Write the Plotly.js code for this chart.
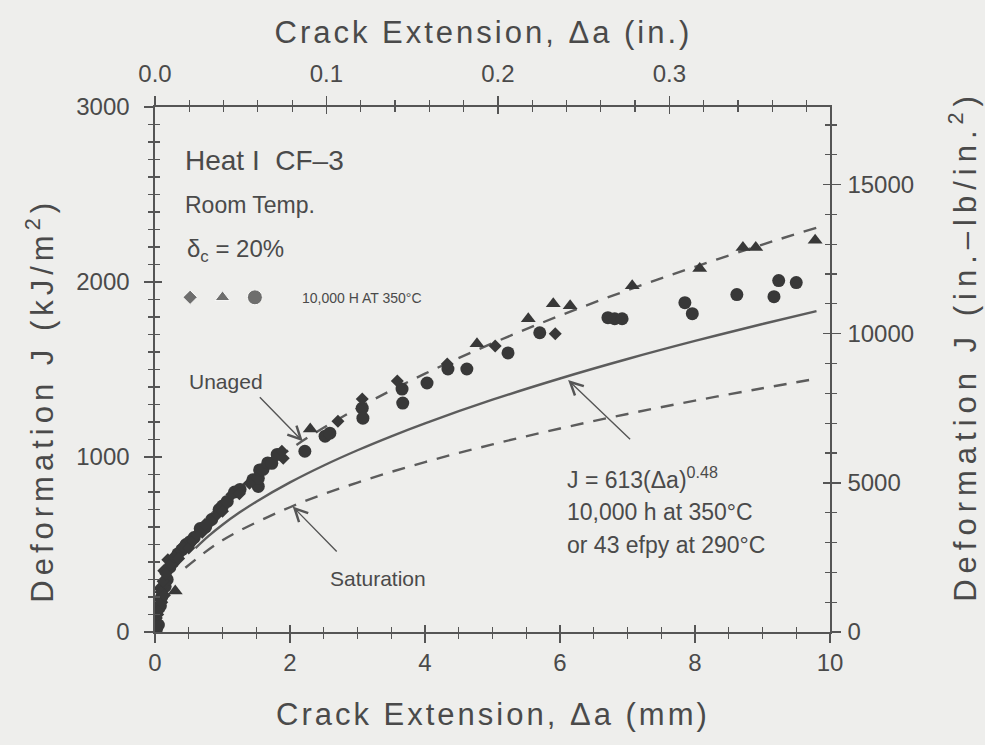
<!DOCTYPE html>
<html>
<head>
<meta charset="utf-8">
<script src="https://cdn.plot.ly/plotly-3.0.1.min.js"></script>
<style>
  html, body { margin: 0; padding: 0; background: #eeeeec; }
  #chart { width: 985px; height: 745px; }
  /* loose tracking on the four axis titles (annotations 0-3) */
  .annotation[data-index="0"] text, .annotation[data-index="1"] text { letter-spacing: 3px; }
  .annotation[data-index="2"] text { letter-spacing: 5px; }
  .annotation[data-index="3"] text { letter-spacing: 6px; }
</style>
</head>
<body>
<div id="chart"></div>
<script>
// Heat I CF-3, room temperature, aged 10,000 h at 350 °C:
// deformation J versus crack extension.

// small diamonds
const diamondDa = [0.00, 0.01, 0.02, 0.03, 0.04, 0.05, 0.06, 0.07, 0.09, 0.10, 0.12, 0.13, 0.14, 0.16, 0.19,
                   0.24, 0.28, 0.35, 0.41, 0.50, 0.56, 0.62, 0.70, 0.74, 0.80, 0.92, 1.00, 1.14, 1.25, 1.40,
                   1.88, 1.90, 2.71, 3.07, 3.59, 4.33, 5.04, 5.93];
const diamondJ  = [0, 30, 80, 60, 100, 120, 190, 250, 229, 170, 290, 350, 210, 333, 413,
                   390, 430, 420, 488, 480, 520, 557, 570, 614, 620, 671, 690, 786, 790, 850,
                   1033, 993, 1205, 1331, 1434, 1532, 1635, 1704];

// triangles
const triangleDa = [0.30, 2.30, 4.77, 5.53, 5.90, 6.15, 7.07, 8.07, 8.71, 8.90, 9.78];
const triangleJ  = [235, 1160, 1647, 1790, 1876, 1865, 1979, 2077, 2197, 2197, 2238];

// large circles
const circleDa = [0.00, 0.02, 0.05, 0.08, 0.10, 0.15, 0.18, 0.22, 0.27, 0.34, 0.40, 0.46, 0.52, 0.58, 0.67,
                  0.75, 0.84, 0.95, 1.00, 1.07, 1.18, 1.26, 1.45, 1.53, 1.53, 1.55, 1.60, 1.67,
                  1.73, 1.81, 2.22, 2.52, 2.59, 3.07, 3.08, 3.66, 3.67, 4.03, 4.34, 4.62, 5.23, 5.70,
                  6.71, 6.81, 6.92, 7.85, 7.96, 8.62, 9.17, 9.24, 9.50];
const circleJ  = [50, 15, 40, 150, 200, 260, 300, 370, 400, 447, 470, 500, 516, 540, 591,
                  600, 643, 700, 720, 746, 800, 815, 870, 832, 878, 926, 929, 966,
                  964, 1015, 1033, 1119, 1136, 1279, 1222, 1388, 1308, 1423, 1503, 1503, 1595, 1710,
                  1796, 1790, 1790, 1882, 1819, 1928, 1916, 2008, 1997];

// aged fit: J = 613 (Δa)^0.48
const fitCoef = 613;
const fitExp = 0.48;
const fitDa = [0.6, 0.8, 1, 1.25, 1.5, 2, 2.5, 3, 3.5, 4, 5, 6, 7, 8, 9, 9.8];
const fitJ = fitDa.map(a => fitCoef * Math.pow(a, fitExp));

// unaged material curve
const unagedDa = [0.2, 0.5, 1, 2, 3, 4, 5, 6, 7, 8, 9, 9.8];
const unagedJ  = [330, 522, 738, 1044, 1278, 1476, 1650, 1808, 1953, 2087, 2214, 2310];

// saturation curve
const satDa = [0.45, 1, 2, 3, 4, 5, 6, 7, 8, 9, 9.8];
const satJ  = [367, 524, 713, 854, 971, 1072, 1163, 1246, 1322, 1393, 1447];

// legend key symbols
const keySymbols = ['diamond', 'triangle-up', 'circle'];
const keySizes = [11, 13, 15];

// secondary axis scales
const MM_PER_IN = 25.4;
const daMax = 10;          // mm
const jMax = 3000;         // kJ/m2
const jMaxInLb = 17600;    // in.-lb/in.2 at the top of the frame

const FONT = '"Liberation Sans", Arial, Helvetica, sans-serif';
const TXT = '#4a4a4a';
const INK = '#383838';
const AX = '#555555';
const CURVE = '#5c5c5c';

const traces = [
  { x: fitDa, y: fitJ, mode: 'lines', line: { color: CURVE, width: 2.4, shape: 'spline' },
    showlegend: false, hoverinfo: 'skip' },
  { x: unagedDa, y: unagedJ, mode: 'lines', line: { color: CURVE, width: 2.4, dash: '13px,10px', shape: 'spline' },
    showlegend: false, hoverinfo: 'skip' },
  { x: satDa, y: satJ, mode: 'lines', line: { color: CURVE, width: 2.4, dash: '13px,10px', shape: 'spline' },
    showlegend: false, hoverinfo: 'skip' },
  { x: circleDa, y: circleJ, mode: 'markers', marker: { symbol: 'circle', size: 13, color: INK }, showlegend: false },
  { x: triangleDa, y: triangleJ, mode: 'markers', marker: { symbol: 'triangle-up', size: 13, color: INK }, showlegend: false },
  { x: diamondDa, y: diamondJ, mode: 'markers', marker: { symbol: 'diamond', size: 10, color: INK }, showlegend: false },
  // key symbols on their own small axes
  { x: keySymbols.map((s, i) => i), y: keySymbols.map(() => 0), xaxis: 'x5', yaxis: 'y5', mode: 'markers',
    marker: { symbol: keySymbols, size: keySizes, color: INK }, showlegend: false, hoverinfo: 'skip' },
  // companion axes carrying the secondary scales and inward tick halves
  { x: [], y: [], xaxis: 'x2', yaxis: 'y2', showlegend: false, hoverinfo: 'skip' },
  { x: [], y: [], xaxis: 'x3', yaxis: 'y3', showlegend: false, hoverinfo: 'skip' },
  { x: [], y: [], xaxis: 'x4', yaxis: 'y4', showlegend: false, hoverinfo: 'skip' }
];

const tickFont = { family: FONT, size: 24, color: TXT };
const base = { showgrid: false, zeroline: false, showline: true, linecolor: AX, linewidth: 1.6,
               tickcolor: AX, tickwidth: 1.4, tickfont: tickFont, fixedrange: true };
const minorOut = (d, len) => ({ dtick: d, ticks: 'outside', ticklen: len, tickcolor: AX, tickwidth: 1.2, showgrid: false });
const minorIn = (d, len) => ({ dtick: d, ticks: 'inside', ticklen: len, tickcolor: AX, tickwidth: 1.2, showgrid: false });

const xRange = [0, daMax];
const xInRange = [0, daMax / MM_PER_IN];
const yRange = [0, jMax];
const y2Range = [0, jMaxInLb];

const titleFont = (s) => ({ family: FONT, size: s, color: TXT });

const layout = {
  width: 985, height: 745,
  margin: { l: 155, r: 155, t: 107, b: 113 },
  paper_bgcolor: '#eeeeec', plot_bgcolor: '#eeeeec',
  showlegend: false,
  font: { family: FONT, color: TXT },
  xaxis: Object.assign({}, base, { range: xRange, tick0: 0, dtick: 2, ticks: 'outside', ticklen: 9,
    ticklabelstandoff: 0, minor: minorOut(0.5, 5) }),
  xaxis3: Object.assign({}, base, { overlaying: 'x', anchor: 'y', side: 'bottom', range: xRange, tick0: 0, dtick: 2,
    ticks: 'inside', ticklen: 7, showticklabels: false, minor: minorIn(0.5, 5) }),
  xaxis2: Object.assign({}, base, { overlaying: 'x', anchor: 'y', side: 'top', range: xInRange, tick0: 0, dtick: 0.1,
    tickformat: '.1f', ticks: 'outside', ticklen: 9, ticklabelstandoff: 5, minor: minorOut(0.02, 5) }),
  xaxis4: Object.assign({}, base, { overlaying: 'x', anchor: 'y', side: 'top', range: xInRange, tick0: 0, dtick: 0.1,
    ticks: 'inside', ticklen: 7, showticklabels: false, minor: minorIn(0.02, 5) }),
  yaxis: Object.assign({}, base, { range: yRange, tick0: 0, dtick: 1000, ticks: 'outside', ticklen: 9,
    ticklabelstandoff: 10, minor: minorOut(100, 5) }),
  yaxis3: Object.assign({}, base, { overlaying: 'y', anchor: 'x', side: 'left', range: yRange, tick0: 0, dtick: 1000,
    ticks: 'inside', ticklen: 7, showticklabels: false, minor: minorIn(100, 5) }),
  yaxis2: Object.assign({}, base, { overlaying: 'y', anchor: 'x', side: 'right', range: y2Range, tick0: 0, dtick: 5000,
    tickformat: 'd', ticks: 'outside', ticklen: 9, ticklabelstandoff: 2, minor: minorOut(1000, 5) }),
  yaxis4: Object.assign({}, base, { overlaying: 'y', anchor: 'x', side: 'right', range: y2Range, tick0: 0, dtick: 5000,
    ticks: 'inside', ticklen: 7, showticklabels: false, minor: minorIn(1000, 5) }),
  xaxis5: { domain: [0.028, 0.172], anchor: 'y5', range: [-0.5, 2.5], visible: false, fixedrange: true },
  yaxis5: { domain: [0.62, 0.655], anchor: 'x5', range: [-1, 1], visible: false, fixedrange: true },
  annotations: [
    { xref: 'paper', yref: 'paper', x: 0.487, y: 1.1415, xanchor: 'center', yanchor: 'middle',
      text: 'Crack Extension, Δa (in.)', showarrow: false, font: titleFont(31) },
    { xref: 'paper', yref: 'paper', x: 0.5, y: -0.158, xanchor: 'center', yanchor: 'middle',
      text: 'Crack Extension, Δa (mm)', showarrow: false, font: titleFont(31) },
    { xref: 'paper', yref: 'paper', x: -0.170, y: 0.442, xanchor: 'center', yanchor: 'middle', textangle: -90,
      text: 'Deformation J (kJ/m<sup>2</sup>)', showarrow: false, font: titleFont(31) },
    { xref: 'paper', yref: 'paper', x: 1.197, y: 0.545, xanchor: 'center', yanchor: 'middle', textangle: -90,
      text: 'Deformation J (in.–lb/in.<sup>2</sup>)', showarrow: false, font: titleFont(31) },

    { x: 0.41, y: 2697, xanchor: 'left', text: 'Heat I  CF–3', showarrow: false, font: titleFont(28) },
    { x: 0.41, y: 2438, xanchor: 'left', text: 'Room Temp.', showarrow: false, font: titleFont(23) },
    { x: 0.44, y: 2180, xanchor: 'left', text: 'δ<sub>c</sub> = 20%', showarrow: false, font: titleFont(24) },
    { x: 2.15, y: 1911, xanchor: 'left', text: '10,000 H AT 350°C', showarrow: false, font: titleFont(14) },

    { x: 1.05, y: 1434, text: 'Unaged', showarrow: false, font: titleFont(21) },
    { x: 2.19, y: 1090, ax: -46, ay: -47, text: ' ', showarrow: true, arrowhead: 5, arrowsize: 1.8,
      arrowwidth: 1.4, arrowcolor: AX },
    { x: 3.30, y: 304, text: 'Saturation', showarrow: false, font: titleFont(21) },
    { x: 2.04, y: 717, ax: 47, ay: 48, text: ' ', showarrow: true, arrowhead: 5, arrowsize: 1.8,
      arrowwidth: 1.4, arrowcolor: AX },

    { x: 6.07, y: 878, xanchor: 'left', text: 'J = 613(Δa)<sup>0.48</sup>', showarrow: false, font: titleFont(23) },
    { x: 6.07, y: 688, xanchor: 'left', text: '10,000 h at 350°C', showarrow: false, font: titleFont(23) },
    { x: 6.07, y: 499, xanchor: 'left', text: 'or 43 efpy at 290°C', showarrow: false, font: titleFont(23) },
    { x: 6.12, y: 1440, ax: 65, ay: 62, text: ' ', showarrow: true, arrowhead: 5, arrowsize: 1.8,
      arrowwidth: 1.4, arrowcolor: AX }
  ]
};

Plotly.newPlot('chart', traces, layout, { staticPlot: true, displayModeBar: false });
</script>
</body>
</html>
